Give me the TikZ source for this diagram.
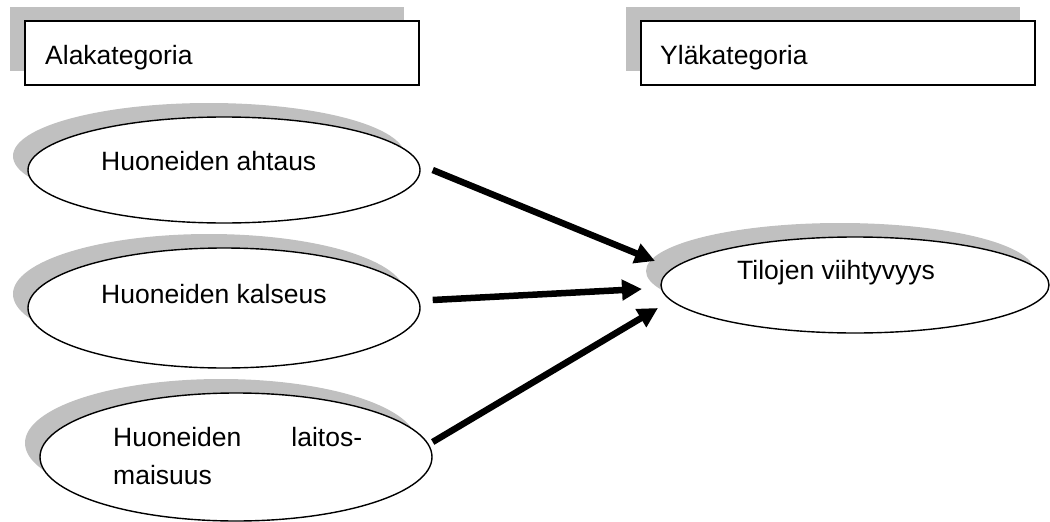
\documentclass[tikz,border=0pt]{standalone}
\usepackage{fontspec}
\setmainfont{Liberation Sans}
\usetikzlibrary{shapes.geometric,arrows.meta,shadows}
\definecolor{shade}{RGB}{192,192,192}
\begin{document}
\begin{tikzpicture}[x=1pt,y=-1pt,
  font=\fontsize{26.5}{31}\selectfont,
  shadowed/.style={drop shadow={shadow xshift=-15pt,shadow yshift=14pt,opacity=1,fill=shade}},
  catbox/.style={draw,line width=1.5pt,fill=white,minimum width=394pt,minimum height=64pt,inner sep=0pt,shadowed},
  oval/.style={ellipse,draw,line width=1.4pt,fill=white,inner sep=0pt,shadowed},
  lbl/.style={inner sep=0pt,anchor=base west},
  conn/.style={line width=6.5pt,-{Triangle[length=20pt,width=20pt]}}
]
\useasboundingbox (0,0) rectangle (1050,522);

% category headers
\node[catbox] (lower) at (222,53) {};
\node[catbox] (upper) at (838,53) {};
\node[lbl] (lowertxt) at (45,64) {Alakategoria};
\node[lbl] (uppertxt) at (660,64) {Yläkategoria};

% sub-category ovals
\node[oval,minimum width=392pt,minimum height=106pt] (e1) at (224,170) {};
\node[oval,minimum width=392pt,minimum height=120pt] (e2) at (224,308) {};
\node[oval,minimum width=392pt,minimum height=128pt] (e3) at (236,457) {};
\node[lbl] (e1txt) at (101,170) {Huoneiden ahtaus};
\node[lbl] (e2txt) at (101,303) {Huoneiden kalseus};
\node[lbl,text width=249pt] (e3txt) at (113,446) {Huoneiden\hfill laitos-};
\node[lbl] (e3txtb) at (113,484) {maisuus};

% main-category oval
\node[oval,minimum width=388pt,minimum height=96pt] (top) at (855,285) {};
\node[lbl] (toptxt) at (737,279) {Tilojen viihtyvyys};

% arrow targets
\coordinate (p1) at (655,261);
\coordinate (p2) at (642,289);
\coordinate (p3) at (658,308);

\draw[conn] ([xshift=12pt]e1.east) -- (p1);
\draw[conn] ([shift={(12,-8)}]e2.east) -- (p2);
\draw[conn] ([shift={(0,-15)}]e3.east) -- (p3);
\end{tikzpicture}
\end{document}
